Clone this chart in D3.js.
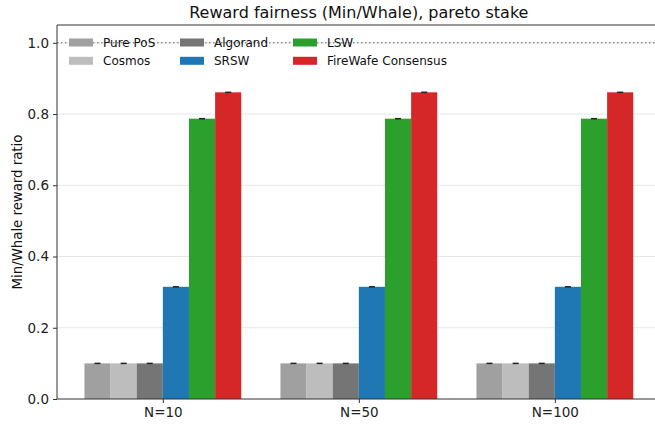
<!DOCTYPE html>
<html><head><meta charset="utf-8">
<script src="https://cdn.jsdelivr.net/npm/d3@7"></script>
<style>body{margin:0;background:#fff;} svg{display:block;font-family:"DejaVu Sans",sans-serif;}</style>
</head><body>
<svg id="c" width="655" height="433"></svg>
<script>
const categories = ["N=10", "N=50", "N=100"];
const seriesNames = ["Pure PoS", "Cosmos", "Algorand", "SRSW", "LSW", "FireWafe Consensus"];
const seriesColors = ["#a0a0a0", "#bdbdbd", "#757575", "#1f77b4", "#2ca02c", "#d62728"];
const pureposValues = [0.100, 0.100, 0.100];
const cosmosValues = [0.100, 0.100, 0.100];
const algorandValues = [0.100, 0.100, 0.100];
const srswValues = [0.315, 0.315, 0.315];
const lswValues = [0.787, 0.787, 0.787];
const firewafeValues = [0.861, 0.861, 0.861];
const yTicks = [0.0, 0.2, 0.4, 0.6, 0.8, 1.0];
const seriesValues = [pureposValues, cosmosValues, algorandValues, srswValues, lswValues, firewafeValues];

const svg = d3.select("#c");
const L = 57, T = 25, B = 399, R = 57 + 3.08 * 196;
const x = d3.scaleLinear().domain([-0.54, 2.54]).range([L, R]);
const y = d3.scaleLinear().domain([0, 1.05]).range([B, T]);
const nS = seriesNames.length, gw = 0.8, bw = gw / nS;

// grid
svg.append("g").selectAll("line").data(yTicks.slice(1)).join("line")
  .attr("x1", L).attr("x2", 655).attr("y1", d => y(d)).attr("y2", d => y(d))
  .attr("stroke", "#e6e6e6").attr("stroke-width", 1);

// bars
const data = [];
seriesValues.forEach((vals, s) => vals.forEach((v, i) => data.push({s, i, v})));
svg.append("g").selectAll("rect").data(data).join("rect")
  .attr("x", d => x(d.i - gw / 2 + d.s * bw))
  .attr("width", d => x(d.i - gw / 2 + (d.s + 1) * bw) - x(d.i - gw / 2 + d.s * bw))
  .attr("y", d => y(d.v)).attr("height", d => B - y(d.v))
  .attr("fill", d => seriesColors[d.s]);
// error caps
svg.append("g").selectAll("line").data(data).join("line")
  .attr("x1", d => x(d.i - gw / 2 + (d.s + 0.5) * bw) - 3)
  .attr("x2", d => x(d.i - gw / 2 + (d.s + 0.5) * bw) + 3)
  .attr("y1", d => y(d.v)).attr("y2", d => y(d.v))
  .attr("stroke", "#222").attr("stroke-width", 1.5);

// reference line
svg.append("line").attr("x1", L).attr("x2", 655).attr("y1", y(1)).attr("y2", y(1))
  .attr("stroke", "#666").attr("stroke-width", 1).attr("stroke-dasharray", "1.5,2.5");

// axes
const yAxis = svg.append("g").attr("transform", `translate(${L},0)`)
  .call(d3.axisLeft(y).tickValues(yTicks).tickFormat(d3.format(".1f")).tickSize(4).tickPadding(4));
const xAxis = svg.append("g").attr("transform", `translate(0,${B})`)
  .call(d3.axisBottom(x).tickValues([0, 1, 2]).tickFormat(i => categories[i]).tickSize(4).tickPadding(4));
[yAxis, xAxis].forEach(a => {
  a.attr("font-size", 13.5).attr("font-family", "DejaVu Sans");
  a.selectAll("text").attr("fill", "#222");
  a.selectAll("line").attr("stroke", "#333");
  a.select(".domain").attr("stroke", "#333");
});
yAxis.select(".domain").attr("d", `M0,${B}V${T}`);
xAxis.select(".domain").attr("d", `M${L},0H655`);
svg.append("line").attr("x1", L).attr("x2", 655).attr("y1", T).attr("y2", T).attr("stroke", "#333");

// labels
svg.append("text").attr("x", (L + R) / 2).attr("y", 18).attr("text-anchor", "middle")
  .attr("font-size", 16).attr("fill", "#111").text("Reward fairness (Min/Whale), pareto stake");
svg.append("text").attr("transform", `translate(21.5,${(T + B) / 2}) rotate(-90)`).attr("text-anchor", "middle")
  .attr("font-size", 13.3).attr("fill", "#111").text("Min/Whale reward ratio");

// legend
const lg = svg.append("g");
const colX = [69, 180, 293];
seriesNames.forEach((n, k) => {
  const c = Math.floor(k / 2), r = k % 2;
  const gx = colX[c], gy = 42.5 + r * 18.3;
  lg.append("rect").attr("x", gx).attr("y", gy - 4).attr("width", 24).attr("height", 8).attr("fill", seriesColors[k]);
  lg.append("text").attr("x", gx + 34).attr("y", gy + 4.5).attr("font-size", 12).attr("fill", "#111").text(n);
});
</script>
</body></html>
